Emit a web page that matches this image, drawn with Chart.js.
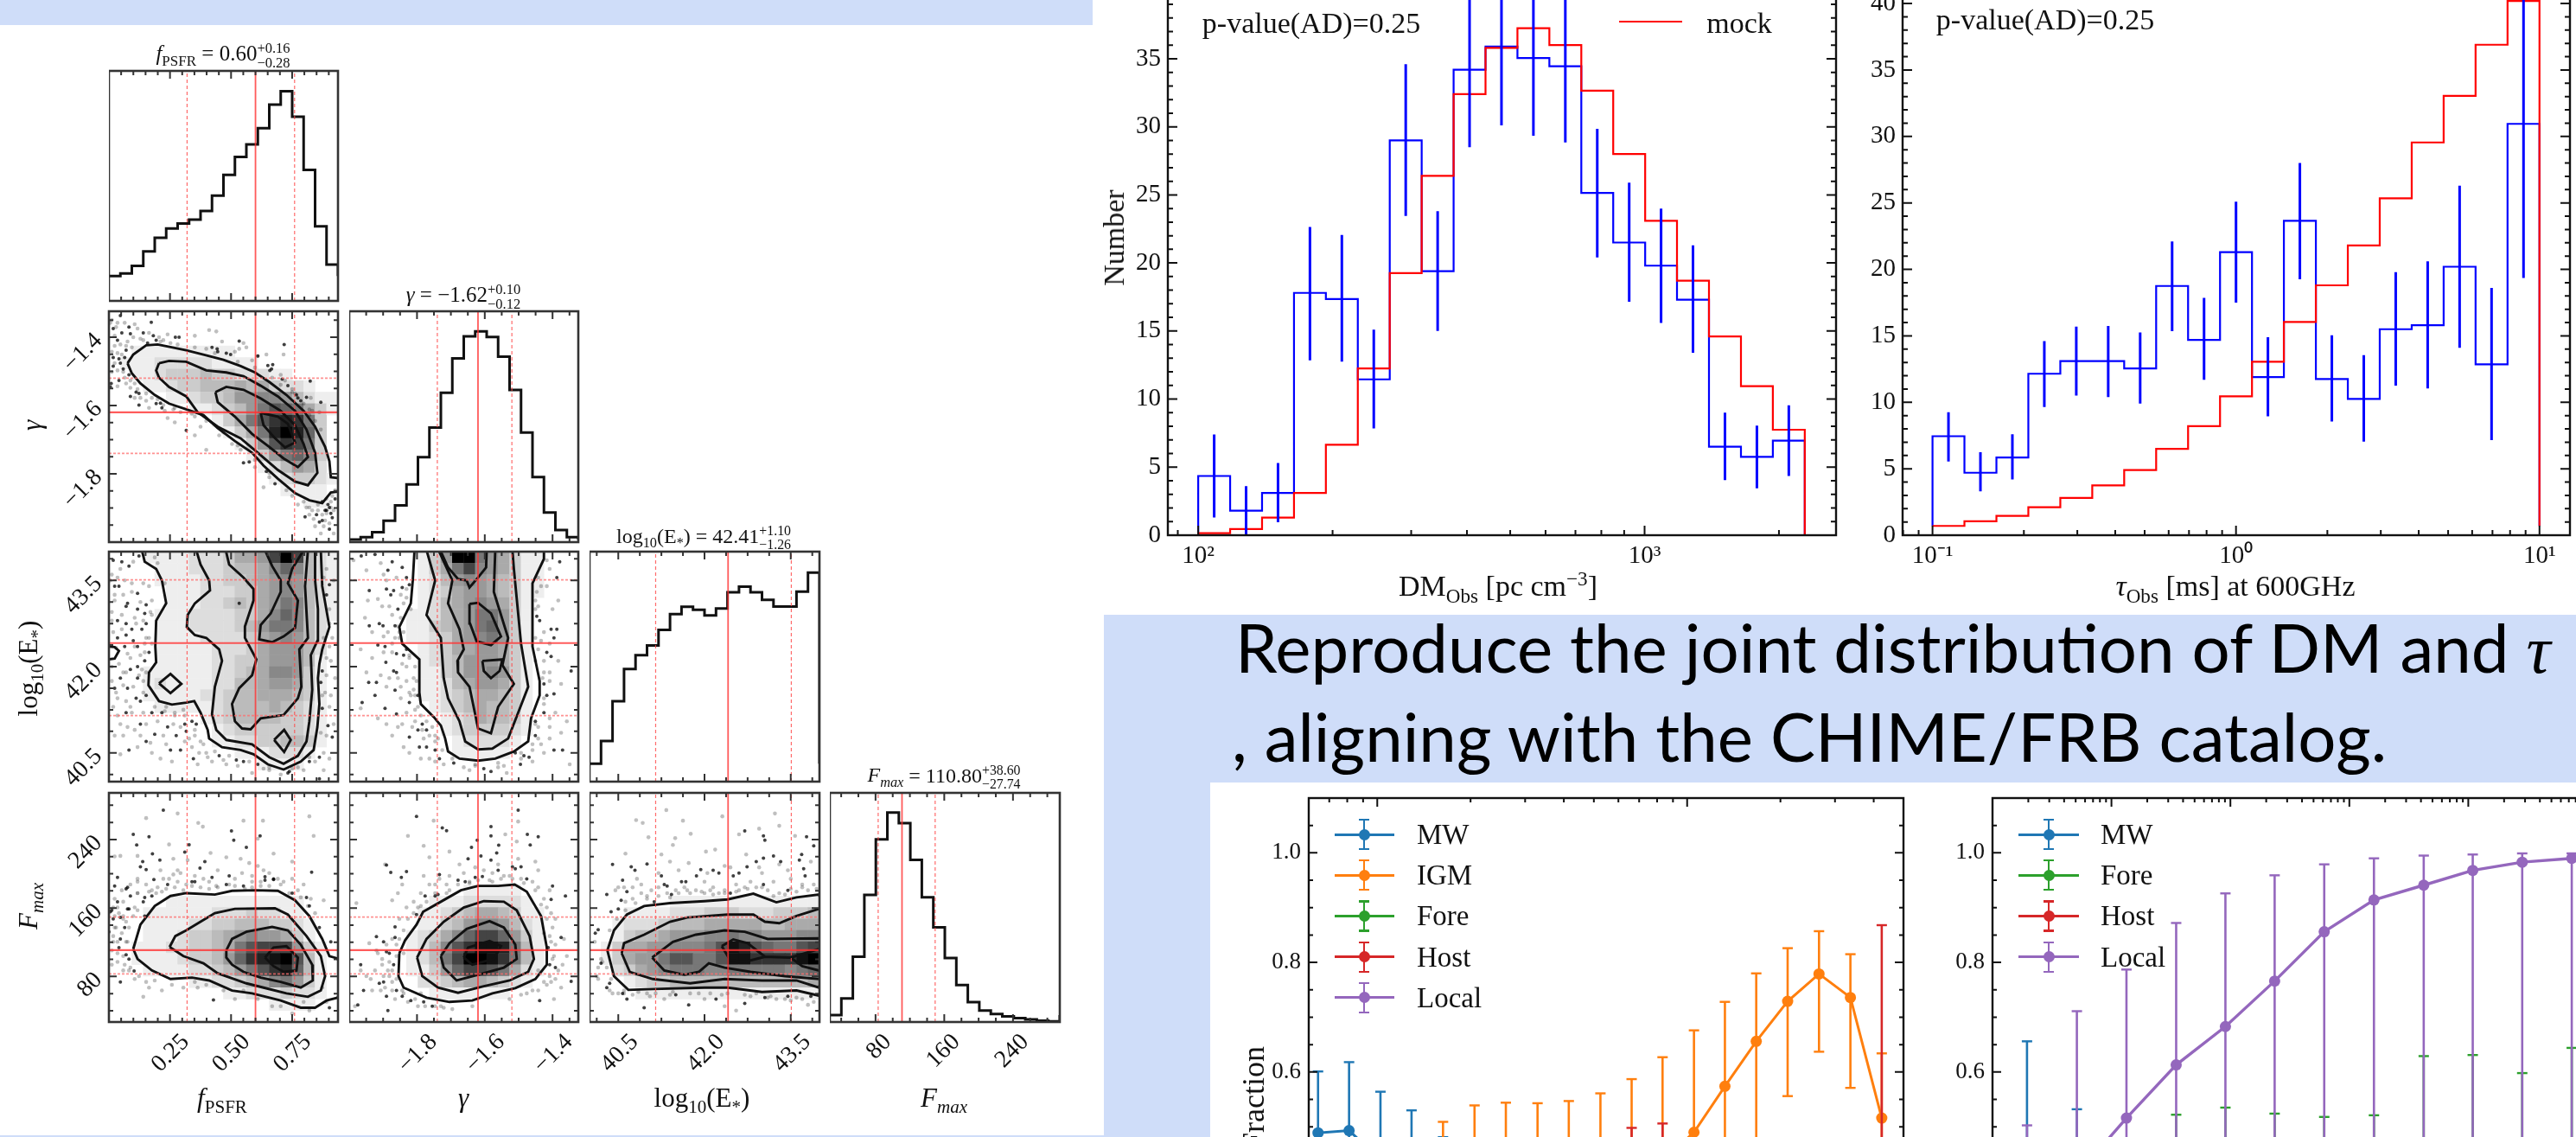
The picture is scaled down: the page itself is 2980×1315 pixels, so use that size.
<!DOCTYPE html>
<html><head><meta charset="utf-8">
<script src="https://cdn.jsdelivr.net/npm/chart.js@4"></script>
<style>
html,body{margin:0;padding:0;width:2980px;height:1315px;overflow:hidden;background:#fff}
#stage{position:absolute;left:0;top:0;width:2980px;height:1315px;overflow:hidden}
.band{position:absolute;background:#cfddf9}
.layer{position:absolute;left:0;top:0;width:2980px;height:1315px}
canvas{position:absolute}
.t{position:absolute;font-family:"Liberation Serif",serif;color:#111;white-space:nowrap;transform:translate(-50%,-50%)}
.t sub,.t sup{font-size:.68em;line-height:0}
.s{display:inline-block;vertical-align:middle;font-size:.66em;line-height:1;text-align:left}
.s span{display:block}
.h{position:absolute}
.slide{position:absolute;font-family:Lato,"Noto Sans",sans-serif;color:#000;white-space:nowrap;font-size:78px;line-height:1}
#corner{filter:blur(.7px)}
#dist,#frac{filter:blur(.4px)}
</style></head><body><div id="stage">
<div class="band" style="left:0;top:0;width:1264px;height:29px"></div>
<div class="band" style="left:1277px;top:711px;width:1703px;height:194px"></div>
<div class="band" style="left:1277px;top:905px;width:123px;height:410px"></div>
<div class="band" style="left:0;top:1313px;width:1280px;height:2px"></div>
<div class="slide" style="left:1429px;top:709px">Reproduce the joint distribution of DM and <span style="font-family:'Liberation Serif';font-style:italic">τ</span></div>
<div class="slide" style="left:1425px;top:812px">, aligning with the CHIME/FRB catalog.</div>
<div class="layer" id="corner"></div>
<div class="layer" id="dist"></div>
<div class="layer" id="frac"></div>
</div>
<script>
// ---------- DM / tau histograms ----------
const dmEdges=[100,117.9,139,163.9,193.2,227.8,268.6,316.7,373.4,440.2,519,611.9,721.5,850.6,1003,1182,1394,1644,1938,2285];
const dmObs=[4.35,1.8,3.1,17.8,17.35,11.45,29,19.4,34.2,35.9,35.05,34.45,25.15,21.5,19.8,17.3,6.5,5.75,6.95];
const dmMock=[0.15,0.45,1.3,3.1,6.65,12.25,19.25,26.4,32.4,35.8,37.25,36,32.65,28,23.1,18.7,14.6,10.95,7.75];
const dmHi=[7.4,3.6,5.3,22.65,22.05,15.1,34.6,23.8,39.9,41.5,40.8,40,29.85,25.9,24,21.3,9,8.05,9.55];
const dmLo=[1.3,0,0.95,12.85,12.75,7.85,23.45,15,28.5,30.1,29.35,28.85,20.4,17.15,15.6,13.4,4.05,3.45,4.35];
const tauEdges=[0.1,0.1274,0.1624,0.2069,0.2637,0.336,0.4281,0.5456,0.6952,0.8859,1.129,1.438,1.833,2.336,2.976,3.793,4.833,6.158,7.848,10];
const tauObs=[7.45,4.7,5.85,12.15,13.1,13.1,12.55,18.75,14.7,21.3,11.9,23.65,11.75,10.25,15.5,15.8,20.2,12.85,30.95];
const tauMock=[0.7,1.05,1.45,2.1,2.8,3.75,4.9,6.5,8.2,10.45,13.05,16.05,18.8,21.8,25.35,29.55,33.05,36.9,40.2];
const tauHi=[9.25,6.25,7.6,14.6,15.7,15.75,15.25,22.1,17.85,25.1,14.9,28,15.05,13.55,19.8,20.6,26.3,18.6,42.5];
const tauLo=[5.55,3.3,4.2,9.65,10.5,10.4,9.9,15.35,11.7,17.5,8.95,19.25,8.55,7.05,11.25,11.05,14.1,7.15,19.35];
const countTicks=[];for(let i=0;i<=43;i++)countTicks.push(i);
const countMajor=[0,5,10,15,20,25,30,35,40];
const dmTicks=[90,100,200,300,400,500,600,700,800,900,1000,2000];
const dmMajor=[100,1000];const dmLabels=['10²','10³'];
const tauTicks=[0.08,0.09,0.1,0.2,0.3,0.4,0.5,0.6,0.7,0.8,0.9,1,2,3,4,5,6,7,8,9,10];
const tauMajor=[0.1,1,10];const tauLabels=['10⁻¹','10⁰','10¹'];
// ---------- fraction panels ----------
const names5=['MW','IGM','Fore','Host','Local'];
const names4=['MW','Fore','Host','Local'];
const tab={MW:'#1f77b4',IGM:'#ff7f0e',Fore:'#2ca02c',Host:'#d62728',Local:'#9467bd'};
const dmBins=[64.4,81.1,102.4,129,163,206,260,329,415,525,662,833,1052,1324,1671,2110,2664,3364,4246];
const cMW=[.489,.493,.44,.40,.35,.30,.26,.22,.18,.15,.12,.10,.08,.06,.05,.04,.03,.02,.02];
const cMWhi=[.601,.618,.564,.53,.481,.44,.40,.35,.30,.26,.22,.19,.16,.13,.11,.09,.08,.07,.06];
const cMWlo=[.38,.37,.31,.27,.22,.18,.14,.11,.08,.06,.05,.03,.02,.02,.01,.01,.01,.01,.01];
const cIGM=[.20,.24,.27,.31,.35,.38,.40,.41,.42,.42,.43,.438,.49,.574,.656,.729,.779,.736,.516];
const cIGMhi=[.34,.38,.42,.46,.509,.539,.544,.543,.547,.561,.587,.627,.676,.728,.78,.826,.857,.815,.634];
const cIGMlo=[.08,.10,.13,.16,.19,.22,.25,.27,.28,.29,.29,.27,.31,.40,.47,.556,.637,.571,.38];
const cFore=[.09,.09,.09,.10,.11,.12,.12,.12,.12,.11,.10,.09,.08,.06,.05,.04,.03,.03,.02];
const cForeHi=[.22,.22,.22,.24,.25,.27,.27,.27,.26,.25,.24,.22,.2,.17,.14,.12,.1,.09,.08];
const cForeLo=[.01,.01,.01,.02,.02,.03,.03,.03,.03,.03,.02,.02,.01,.01,.01,.01,.01,.01,.01];
const cHost=[.06,.07,.08,.09,.10,.12,.14,.17,.20,.24,.28,.31,.27,.22,.18,.14,.11,.14,.36];
const cHostHi=[.18,.2,.22,.24,.26,.3,.34,.38,.42,.46,.498,.506,.46,.4,.33,.27,.23,.28,.868];
const cHostLo=[.01,.01,.01,.02,.02,.03,.04,.05,.06,.08,.11,.13,.11,.09,.07,.05,.04,.04,.07];
const cLocal=[.08,.08,.08,.08,.08,.07,.07,.07,.06,.06,.05,.05,.04,.04,.03,.03,.03,.03,.03];
const cLocalHi=[.22,.22,.21,.21,.2,.2,.19,.18,.17,.16,.15,.14,.12,.11,.1,.09,.08,.08,.08];
const cLocalLo=[.01,.01,.01,.01,.01,.01,.01,.01,.01,.01,.01,.01,.01,.01,.01,.01,.01,.01,.01];
const cXTicks=[60,70,80,90,100,200,300,400,500,600,700,800,900,1000,2000,3000,4000];
const cXMajor=[100,1000];
const tauBins=[0.00195,0.00512,0.01337,0.035,0.0908,0.2355,0.615,1.61,4.22,10.9,28.4,74.1];
const dMW=[.33,.24,.18,.12,.09,.07,.05,.04,.03,.02,.01,.01];
const dMWhi=[.656,.532,.42,.33,.26,.2,.15,.12,.1,.08,.05,.03];
const dMWlo=[.06,.04,.02,.01,.01,.01,.01,.01,.01,.01,.01,.01];
const dFore=[.12,.16,.18,.2,.2,.19,.17,.14,.14,.1,.09,.07];
const dForeHi=[.3,.38,.44,.522,.535,.524,.518,.521,.629,.631,.598,.644];
const dForeLo=[.01,.02,.02,.03,.03,.03,.02,.02,.01,.01,.01,.01];
const dHost=[.2,.18,.14,.1,.07,.05,.04,.03,.02,.01,.01,.01];
const dHostHi=[.46,.42,.36,.3,.24,.18,.14,.1,.07,.05,.03,.02];
const dHostLo=[.03,.03,.02,.01,.01,.01,.01,.01,.01,.01,.01,.01];
const dLocal=[.30,.412,.516,.613,.683,.766,.856,.914,.941,.968,.983,.990];
const dLocalHi=[.5026,.711,.787,.872,.926,.959,.979,.990,.995,.997,.999,.999];
const dLocalLo=[.10,.12,.24,.34,.42,.47,.47,.47,.46,.46,.45,.45];
const dXTicks=[.002,.003,.004,.005,.006,.007,.008,.009,.01,.02,.03,.04,.05,.06,.07,.08,.09,.1,.2,.3,.4,.5,.6,.7,.8,.9,1,2,3,4,5,6,7,8,9,10,20,30,40,50,60,70,80,90];
const dXMajor=[.01,.1,1,10];
const fracTicks=[0,.05,.1,.15,.2,.25,.3,.35,.4,.45,.5,.55,.6,.65,.7,.75,.8,.85,.9,.95,1,1.05];
const fracMajor=[.6,.8,1,.4,.2,0];const fracLabels=['0.6','0.8','1.0','0.4','0.2','0.0'];
// ---------- corner parameters ----------
const paramF={lo:0,hi:.9377,q:[.32,.60,.76]};
const paramG={lo:-2,hi:-1.324,q:[-1.74,-1.62,-1.52]};
const paramE={lo:40,hi:44,q:[41.15,42.41,43.51]};
const paramM={lo:26.8,hi:294.5,q:[83.06,110.8,149.4]};
const tF=[.05,.1,.15,.2,.25,.3,.35,.4,.45,.5,.55,.6,.65,.7,.75,.8,.85,.9];
const tG=[-1.95,-1.9,-1.85,-1.8,-1.75,-1.7,-1.65,-1.6,-1.55,-1.5,-1.45,-1.4,-1.35];
const tE=[40.125,40.5,40.875,41.25,41.625,42,42.375,42.75,43.125,43.5,43.875];
const tM=[40,60,80,100,120,140,160,180,200,220,240,260,280];
const mF=[.25,.5,.75],mG=[-1.8,-1.6,-1.4],mE=[40.5,42,43.5],mM=[80,160,240];
const lF=['0.25','0.50','0.75'],lG=['−1.8','−1.6','−1.4'],lE=['40.5','42.0','43.5'],lM=['80','160','240'];
// 1-D posterior histograms (percent of panel height), 20 bins
const histF=[10.8,11.9,15.2,21.5,27.4,31.5,33.6,35.3,39.1,45.8,54.8,62.6,68,75.1,85.3,91.2,80.1,57,32.4,15.8];
const histG=[1.1,2.2,4.3,9.3,15.9,25,36.8,49.6,64.7,79.6,89.1,91.3,88.9,80.3,65.9,47.5,28.2,12.8,5.2,2.2];
const histE=[7.8,17.7,35,49,55,59.2,66,72.8,76,74.7,72.3,75.3,82.3,84.8,82.3,79,76.1,76.1,82.6,90.9];
const histM=[3,10.3,28.5,55.5,79.7,91.4,86.8,70.8,54.4,41.3,27.9,16.1,8.7,5,3.5,2.5,1.7,1.1,.6,.3];
// 2-D histograms: rows top to bottom, hex digit = density level
const gridFG=["00000000000000000000","00000000000000000000","00000000000000000000","00111111111000000000","01112222211110000000","00112333433222110000","00011233444545322100","00000112334667764211","00000001123468a98531","0000000001358acdc830","00000000001358dfd930","00000000000136acb830","00000000000013689730","00000000000001246520","00000000000000123321","00000000000000011110","00000000000000000110","00000000000000000000","00000000000000000000","00000000000000000000"];
const gridFE=["00011112223556bfb421","00001112223445797421","00001111223345676421","00000111222335676421","00000111223435687421","00001112222335797421","00001112222346887420","00001111222235676420","00001111122235666420","00001111122335666410","00011111122345776310","00012111122445665310","00011111223445554310","00001111123444543210","00000000123444433210","00000000012333333210","00000000011223344310","00000000000111222100","00000000000001111000","00000000000000000000"];
const gridGE=["000000136ff865311000","0000001358b765311000","00000012467654311000","00000012356654311000","00000012456765310000","00000112456886310000","00000113456896310000","00000112356786310000","00000012355665310000","00000012346665310000","00000011346676310000","00000011245665310000","00000011234554310000","00000001234544310000","00000000123544310000","00000000123333210000","00000000012222100000","00000000011111000000","00000000000000000000","00000000000000000000"];
const gridFM=["00000000000000000000","00000000000000000000","00000000000000000000","00000000000000000000","00000000000000000000","00000000000000000000","00000000000000000000","00000000000000000000","00000000000000000000","00000111111111111000","00011111122232211000","00011112233444332100","00011123345676653100","001112233458abbb6310","001111233469cdefa410","0001111223468acd9410","00000001122345786310","00000000001122232210","00000000000000111100","00000000000000000000"];
const gridGM=["00000000000000000000","00000000000000000000","00000000000000000000","00000000000000000000","00000000000000000000","00000000000000000000","00000000000000000000","00000000000000000000","00000000001111100000","00000001112222210000","00000011234554311000","00000011346776421000","00000123579bb9631000","000001247aceed841000","000001248bffec841000","0000011369bba8521000","00000022345543210000","00000001111111000000","00000000000000000000","00000000000000000000"];
const gridEM=["00000000000000000000","00000000000000000000","00000000000000000000","00000000000000000000","00000000000000000000","00000000000000000000","00000000000000000000","00000000000000000000","00000000000000000000","00000001111111111111","00011112223332223334","00122234445555544555","00134456667787766677","01355667778aeda988ab","0135668aa88aeeccccef","00235678887788888789","00012334444444444445","00001111111111111111","00000000000000000000","00000000000000000000"];
// contour levels: unit-cube parameter coordinates in per-mille of each 800-wide axis range, x,y pairs, y from axis top
const cFG=[[65,180,85,150,130,118,170,115,215,124,270,135,330,150,400,168,460,190,510,212,560,245,620,290,680,345,720,400,755,470,770,520,775,575,798,578,840,600,798,625,775,628,745,665,700,655,650,630,590,580,540,535,500,490,440,450,380,405,330,360,270,340,210,320,160,290,110,250,80,215,65,180],
[175,180,210,172,270,175,340,205,410,212,470,225,530,258,590,295,650,345,690,410,720,490,728,560,695,603,650,590,590,550,520,490,460,440,380,400,310,350,270,295,210,262,175,230,165,205,175,180],
[372,280,410,262,470,272,530,302,600,345,650,395,680,460,695,505,660,540,610,510,560,470,500,425,440,365,380,315,372,280],
[530,352,590,365,625,390,650,455,615,472,580,440,540,395,530,352]];
const cFE=[[115,-5,125,35,165,60,185,100,200,180,165,240,162,330,165,385,140,420,138,465,175,520,220,532,270,525,298,520,320,560,345,620,350,650,395,680,460,690,505,705,555,740,610,758,670,730,715,690,728,610,735,530,730,440,735,390,745,340,770,262,745,120,740,-5],
[305,-5,320,45,350,100,353,135,300,180,275,220,272,262,300,290,340,300,385,340,395,380,370,470,360,565,375,620,410,655,500,670,560,715,610,738,660,710,690,660,700,590,710,480,705,360,728,310,730,200,720,100,720,-5],
[408,-5,420,45,470,90,505,130,505,170,475,260,475,300,515,375,500,430,455,475,430,530,440,590,465,615,495,618,530,580,610,568,660,510,672,470,665,340,695,300,685,120,695,-5],
[545,-5,570,50,600,100,600,140,565,215,530,255,525,305,570,315,610,295,650,265,660,170,625,110,640,60,680,-5],
[175,458,215,425,253,460,215,492,175,458],[577,655,612,620,635,655,612,697,577,655],[-5,330,20,332,35,345,20,372,-5,375]];
const cGE=[[228,-5,222,100,215,180,175,262,185,320,245,375,245,490,250,530,295,575,320,605,335,650,345,695,385,720,450,727,510,720,575,695,625,660,635,580,665,500,665,450,640,330,640,110,680,25,680,-5],
[270,-5,300,100,270,220,320,300,330,440,345,510,385,590,405,660,450,688,500,685,555,650,590,560,625,470,600,320,575,60,570,-5],
[312,-5,360,100,345,180,385,270,400,340,378,380,380,420,420,470,450,615,495,632,520,540,575,460,535,395,555,300,505,140,510,-5],
[318,-5,345,55,380,95,410,100,420,125,450,90,478,55,480,-5],
[420,182,450,178,495,215,530,295,495,325,445,312,422,250,420,182],[465,380,535,375,525,415,495,440,470,415,465,380]];
const cFM=[[85,545,110,460,160,395,215,360,270,350,370,355,430,342,510,340,590,342,650,375,700,430,745,510,770,570,798,578,830,650,798,715,760,725,720,750,670,750,600,725,500,700,430,690,350,655,290,645,215,650,150,620,100,580,85,545],
[212,538,232,500,270,480,320,450,370,420,440,405,580,403,625,425,690,500,740,570,755,640,740,690,695,712,620,700,540,680,480,665,380,630,330,595,260,570,212,538],
[410,550,430,510,480,485,570,468,625,480,670,530,710,600,712,655,670,680,600,660,530,645,470,625,430,600,410,575,410,550],
[545,575,575,540,620,535,660,575,655,620,610,625,575,605,545,575]];
const cGM=[[175,560,195,515,235,460,258,415,320,380,390,340,450,325,520,325,578,320,620,345,670,430,690,540,690,600,650,650,580,682,500,700,430,725,350,730,270,715,190,680,172,640,175,560],
[237,575,270,510,330,450,400,400,470,378,540,380,585,410,630,500,645,580,625,625,560,655,470,675,380,698,310,680,255,640,237,575],
[320,570,350,525,410,475,490,448,540,470,580,530,585,580,540,610,450,635,375,655,330,610,320,570],
[400,575,415,540,490,517,530,535,505,580,430,600,400,575]];
const cEM=[[62,550,85,480,130,425,190,395,280,385,400,378,480,372,570,352,650,382,720,365,798,355,860,500,798,708,720,690,600,695,480,680,400,680,220,685,135,688,85,640,62,550],
[112,560,120,525,190,495,280,450,340,435,480,425,570,425,610,450,660,455,720,430,798,405,860,500,798,680,720,655,600,655,470,650,350,665,220,650,140,625,112,560],
[218,575,290,520,370,495,470,480,540,485,620,510,798,508,860,570,798,650,680,640,560,625,470,610,415,595,380,625,330,635,260,620,218,575],
[460,535,500,512,550,525,610,572,700,575,798,545,860,590,798,620,740,605,700,575,610,572,540,590,490,585,460,535]];
// posterior samples outside the contours (same per-mille coordinates), dark and faint
const darkFG=[40,15,148,38,70,55,15,60,45,75,75,78,120,75,155,85,30,100,135,110,165,100,245,90,232,90,455,103,612,115,360,125,378,130,15,160,35,165,60,135,55,160,40,180,15,190,8,250,5,262,50,200,70,220,35,240,95,280,105,285,75,295,105,325,165,320,180,318,185,335,270,413,490,522,470,525,580,598,703,242,660,300,690,298,740,315,520,155,572,185,562,205,568,200,555,188,605,235,625,258,655,290,670,310,550,555,380,140,410,145,425,150,755,690,770,680,745,660,765,670,735,730,770,755,760,690,685,712,725,705,780,715,790,650,775,700,745,725];
const liteFG=[10,30,30,40,90,45,100,60,190,100,215,110,205,80,300,85,350,65,375,70,395,105,480,125,455,130,440,140,520,155,550,150,610,150,470,110,340,130,500,170,600,220,640,270,700,360,735,350,705,300,20,120,10,210,30,260,60,250,90,300,130,310,140,335,205,370,230,385,250,350,300,365,320,400,300,430,385,430,430,460,460,480,340,480,540,610,640,640,680,660,690,680,660,670,710,690,790,620,770,735,740,770,720,745,90,250,195,345,5,40,25,55,55,40,85,90,110,95,20,85,40,115,65,105,10,140,30,145,45,150,20,180,30,205,55,230,75,265,110,300,150,300,190,325,225,340,175,90,140,75,120,100,600,255,615,240,650,285,680,320,710,345,720,380,745,705,755,725,775,680,785,690,730,690,700,705,760,650,750,745,785,770,715,720,560,575,510,540,60,120,80,125,50,210,75,240,100,270,130,285,170,305,230,335,290,355,340,380,400,420,450,465,510,515,560,560,620,620,180,105,240,115,300,125,370,145,450,175,510,195,570,230,640,280,700,340,740,410,775,660,760,700,730,670,700,680,780,640];
const darkFE=[15,30,45,35,105,15,70,50,20,120,35,120,100,145,130,185,60,190,65,180,125,215,130,250,100,200,30,240,60,250,80,270,115,270,30,300,60,290,85,310,100,330,55,330,140,350,125,380,75,410,100,400,40,440,100,440,65,475,95,510,130,500,110,520,20,475,150,560,185,560,235,640,270,625,265,600,290,590,160,635,205,610,130,660,70,690,250,690,215,690,295,720,385,710,445,725,625,770,630,765,770,115,760,150,745,415,740,455,745,545,765,605,780,645,735,715,700,730,735,790,470,730,520,740,110,600,60,560,305,600,455,180];
const liteFE=[10,80,30,90,55,100,80,110,120,110,140,120,150,170,20,170,10,210,45,220,90,230,150,220,15,280,125,320,10,400,35,390,50,420,75,370,115,410,30,510,60,520,80,560,15,540,40,600,90,620,130,600,170,590,200,540,230,570,260,550,300,640,320,660,340,700,150,700,180,720,220,730,290,680,360,730,410,740,500,770,560,760,680,760,750,760,770,720,785,600,770,540,755,490,790,440,775,380,770,330,760,60,785,100,770,250,20,640,50,640,100,680,40,705,310,740,5,100,40,60,85,35,20,150,50,150,80,140,110,175,10,240,45,270,95,250,140,300,25,335,65,355,110,360,10,450,50,465,85,470,120,450,25,490,75,540,120,560,30,570,65,610,110,640,145,665,190,640,225,600,250,610,280,650,315,700,345,715,265,660,200,670,400,725,450,745,540,755,600,775,660,750,720,730,750,700,760,640,775,500,760,430,780,300,750,90,120,240,145,210,130,300,150,320,125,350,105,430,130,420,120,490,160,540,195,555,230,560,265,570,300,620,330,670,370,695,420,710,490,730,560,750,640,755,700,715,740,630,745,500,760,370,750,300,770,200,160,20,170,40,195,110,90,330,60,420];
const darkGE=[42,15,90,10,150,35,185,55,135,65,200,90,210,115,70,135,130,130,155,135,185,125,145,150,170,200,105,250,118,258,160,258,70,258,100,325,125,330,200,340,165,355,190,360,128,385,155,415,165,420,68,455,95,455,160,482,240,500,90,500,125,545,165,565,210,525,45,525,255,600,210,645,245,680,270,680,300,690,315,720,365,735,495,765,470,755,598,740,580,700,628,715,690,500,715,495,680,460,705,365,715,300,735,35,725,90,655,225,665,240,705,270,725,270,690,350,775,415,745,690,715,690,650,640,680,560,650,590,610,710,240,620,270,620];
const liteGE=[15,30,60,65,110,40,120,80,65,170,100,165,140,190,190,180,55,230,80,280,120,295,175,300,40,340,80,370,150,320,60,420,110,430,200,400,130,470,180,470,210,490,225,440,40,545,100,580,130,600,185,600,150,640,190,680,230,590,300,640,250,720,300,730,400,750,440,745,520,750,550,770,640,730,680,700,700,650,740,630,660,650,700,580,760,590,700,450,740,460,680,380,730,380,670,310,655,140,690,120,660,190,710,200,730,170,770,740,130,100,165,90,180,150,200,160,115,190,150,220,135,280,175,280,120,350,150,350,185,390,210,370,170,440,140,440,200,450,225,480,180,510,200,560,230,550,250,570,170,610,220,610,260,650,280,640,300,660,210,700,280,720,330,740,420,760,540,745,600,720,640,690,670,670,700,610,660,610,720,560,680,530,700,420,680,420,660,340,700,320,680,280,670,120,700,60,650,170,200,130,215,200,170,260,160,300,210,360,230,400,235,450,215,500,240,540,270,590,290,610,310,650,325,690,360,720,440,740,520,735,600,700,640,670,650,600,680,510,675,440,650,380,650,300,650,200,660,90,690,30,180,230,190,280,230,500,255,620];
const darkFM=[140,153,97,182,85,145,190,60,280,181,265,207,436,165,428,133,480,190,528,150,130,268,118,240,110,258,178,235,152,213,157,303,205,320,65,330,60,335,30,295,20,325,125,365,75,360,30,380,10,410,5,415,70,405,40,435,125,430,0,485,40,510,35,540,60,565,70,580,88,622,40,660,365,723,770,750,708,277,735,470,775,520,470,325,420,290,545,293,575,303,545,305,360,295,290,310,318,263,335,240,410,320,575,300,300,310,690,365,640,350,700,395,15,440,55,470,65,405,120,380,150,360];
const liteFM=[130,88,240,72,312,105,328,118,470,97,538,97,700,82,715,150,520,160,40,220,20,222,100,220,210,180,225,230,240,270,275,235,355,210,410,225,460,230,490,245,575,212,520,255,640,240,590,300,640,300,100,310,180,270,170,330,240,310,330,300,380,270,440,300,500,310,20,370,50,380,100,350,660,340,750,375,720,420,20,470,10,550,30,590,50,620,105,640,130,660,160,655,120,712,185,690,300,660,310,680,470,690,520,720,640,770,570,745,680,730,745,680,45,340,75,320,100,300,130,320,150,340,185,345,210,300,250,280,270,320,300,290,350,310,380,330,420,320,500,290,530,310,560,280,610,310,680,320,705,370,15,400,35,420,60,450,85,430,100,410,15,500,30,520,60,520,10,600,70,620,90,650,50,570,140,680,220,670,260,680,340,670,400,690,440,720,600,745,700,760,760,730,50,440,20,430,190,300,225,285,465,280,540,270,100,350,140,345,165,350,200,335,230,330,260,340,290,325,320,330,350,335,375,325,440,325,475,335,500,330,530,325,560,325,600,320,630,350,670,365,695,395,30,400,50,430,70,470,15,520,45,490,65,520,30,560,55,600,75,610,25,470,90,400];
const darkGM=[235,82,447,165,495,150,660,153,632,182,622,145,427,190,522,183,590,60,495,118,340,132,325,122,460,220,495,235,515,210,415,230,600,258,570,258,520,270,130,252,145,278,200,275,182,295,315,285,380,305,405,310,440,295,465,292,300,360,265,360,310,355,160,468,235,425,95,502,160,505,120,520,140,560,130,555,40,600,155,600,105,665,120,660,50,690,165,690,130,710,185,710,215,725,260,730,290,745,665,725,755,360,705,372,710,325,580,265,620,300,695,540,700,600,720,610,740,505,775,658,30,740,135,760];
const liteGM=[205,150,295,97,260,185,280,225,350,205,385,250,440,260,500,280,540,290,590,230,650,240,660,270,590,100,545,145,585,170,125,250,185,320,170,350,150,375,260,290,340,350,200,400,175,440,25,385,70,525,100,560,115,600,40,620,75,650,80,690,140,640,150,690,190,700,240,745,20,745,250,700,330,750,660,330,700,340,705,420,720,440,710,470,720,530,750,510,745,600,680,660,705,660,740,680,640,690,715,720,660,620,760,570,225,380,250,350,280,320,315,300,350,290,400,280,470,270,520,250,560,290,600,300,640,310,680,370,690,400,680,490,705,520,710,580,730,620,720,650,690,670,620,700,560,720,240,400,205,440,190,480,150,510,130,530,95,550,115,580,135,620,90,620,60,640,110,690,160,720,205,730,300,745,360,755,430,745,165,530,190,560,125,680,150,660,300,320,340,320,420,310,500,310,250,395,225,420,270,380,300,350,350,340,380,320,420,315,450,305,490,305,530,300,570,300,610,315,650,340,670,390,690,440,700,500,715,570,700,640,660,690,600,705,165,570,150,620,165,650,140,590,120,640,185,690,230,720,265,745,320,745,175,510];
const darkEM=[60,355,30,478,80,250,387,268,372,290,260,320,270,325,250,290,320,310,200,248,145,258,158,270,115,305,130,345,225,380,285,355,335,310,605,150,610,165,755,153,738,215,730,235,605,228,580,240,548,258,520,280,430,270,450,280,500,290,780,185,40,595,115,700,130,720,190,750,345,740,610,715,540,735,440,720,300,705,770,710,690,710,20,490,75,415,100,405,110,375,60,680,70,665,490,350,605,320,690,340,750,290,665,240,640,220,745,265,540,133];
const liteEM=[162,95,185,105,267,60,462,82,325,97,352,143,290,182,298,158,205,155,125,212,250,215,280,240,345,245,405,205,437,198,470,255,545,215,520,145,590,125,660,115,645,72,715,150,660,250,600,280,560,310,400,310,340,340,100,330,180,320,200,360,150,370,420,340,450,350,520,340,640,310,700,300,740,320,30,610,45,590,25,640,70,690,100,700,150,705,210,710,260,720,400,720,470,745,510,760,580,700,650,720,720,715,760,740,18,520,90,340,120,330,150,330,180,350,215,340,240,330,270,350,300,340,330,330,370,340,400,350,430,330,470,340,510,320,540,330,580,330,620,340,660,350,700,335,740,330,780,320,125,380,165,300,240,280,310,270,410,280,490,260,590,260,690,270,770,240,40,580,30,650,80,700,120,690,170,695,230,700,290,695,350,700,420,700,480,700,560,710,630,710,680,720,740,720,780,730,70,480,95,440,125,410,160,385,200,370,240,360,280,365,310,350,350,350,390,345,430,355,470,350,510,345,550,335,600,330,640,360,680,355,720,345,760,340,790,335,60,610,75,650,120,700,200,700,280,705,380,700,460,705,540,705,620,715,700,725];

// ---------- helpers ----------
const SERIF='"Liberation Serif", serif';
Chart.defaults.animation=false;
function frame(o){return{id:'frame',afterDatasetsDraw(ch){
  const {ctx,chartArea:a,scales:{x,y}}=ch;ctx.save();
  ctx.strokeStyle=o.color;ctx.lineWidth=o.tw;
  const mk=(px,l,vert)=>{ctx.beginPath();
    if(vert){ctx.moveTo(px,a.bottom);ctx.lineTo(px,a.bottom-l);ctx.moveTo(px,a.top);ctx.lineTo(px,a.top+l);}
    else{ctx.moveTo(a.left,px);ctx.lineTo(a.left+l,px);ctx.moveTo(a.right,px);ctx.lineTo(a.right-l,px);}
    ctx.stroke();};
  if(o.xt)for(const v of o.xt){const p=x.getPixelForValue(v);if(p>=a.left&&p<=a.right)mk(p,o.xm.includes(v)?o.maj:o.min,true);}
  if(o.yt)for(const v of o.yt){const p=y.getPixelForValue(v);if(p>=a.top&&p<=a.bottom)mk(p,o.ym.includes(v)?o.maj:o.min,false);}
  ctx.lineWidth=o.bw;ctx.strokeRect(a.left,a.top,a.right-a.left,a.bottom-a.top);ctx.restore();}};}
function axis(kind,type,min,max,vals,majors,labels,mg,opt){
  const map=new Map();if(labels)majors.forEach((m,i)=>map.set(m,labels[i]));
  return{type,min,max,bounds:'data',position:kind==='x'?'bottom':'left',offset:false,
   grid:{display:false,drawTicks:false},border:{display:false},
   afterBuildTicks(s){s.ticks=(vals||[]).map(v=>({value:v}));},
   afterFit(s){if(kind==='x')s.height=mg;else s.width=mg;s.paddingLeft=s.paddingRight=s.paddingTop=s.paddingBottom=0;},
   ticks:{display:!!labels,autoSkip:false,color:'#111',padding:opt.pad,font:{family:SERIF,size:opt.size},
     minRotation:opt.rot||0,maxRotation:opt.rot||0,labelOffset:opt.off||0,
     callback:v=>map.has(v)?map.get(v):''}};}
function plot(parent,r,m,scales,datasets,fr){
  const c=document.createElement('canvas');
  const W=r.r-r.l+m.ml+m.mr,H=r.b-r.t+m.mt+m.mb;
  c.width=W;c.height=H;c.style.left=(r.l-m.ml)+'px';c.style.top=(r.t-m.mt)+'px';c.style.width=W+'px';c.style.height=H+'px';
  document.getElementById(parent).appendChild(c);
  new Chart(c,{type:'scatter',data:{datasets:datasets.slice().reverse()},plugins:[frame(fr)],
   options:{responsive:false,devicePixelRatio:1,animation:false,events:[],
    layout:{autoPadding:false,padding:{left:0,top:m.mt,right:m.mr,bottom:0}},
    elements:{line:{tension:0}},
    plugins:{legend:{display:false},tooltip:{enabled:false},title:{display:false}},scales}});
}
function line(pts,color,w,extra){return Object.assign({data:pts,showLine:true,fill:false,pointRadius:0,borderColor:color,borderWidth:w,spanGaps:false},extra||{});}
function steps(edges,vals,base,color,w){
  const pts=[{x:edges[0],y:base}];
  vals.forEach((v,i)=>pts.push({x:edges[i],y:v}));
  pts.push({x:edges[vals.length],y:vals[vals.length-1]});
  pts.push({x:edges[vals.length],y:base});
  return line(pts,color,w,{stepped:'before'});}
function bars(xs,lo,hi,color,w){const pts=[];xs.forEach((x,i)=>{pts.push({x,y:lo[i]},{x,y:hi[i]},{x,y:NaN});});return line(pts,color,w);}
function caps(xs,lo,hi,color,w,r){const pts=[];xs.forEach((x,i)=>{pts.push({x,y:lo[i]},{x,y:hi[i]});});
  return{data:pts,showLine:false,pointStyle:'line',pointRadius:r,pointBorderColor:color,pointBorderWidth:w,pointBackgroundColor:color};}
function label(parent,html,x,y,size,rot){const d=document.createElement('div');d.className='t';d.innerHTML=html;d.style.left=x+'px';d.style.top=y+'px';d.style.fontSize=size+'px';
  if(rot)d.style.transform='translate(-50%,-50%) rotate('+rot+'deg)';document.getElementById(parent).appendChild(d);return d;}
function hdiv(parent,x,y,w,h,col,rad){const d=document.createElement('div');d.className='h';d.style.cssText+=`left:${x}px;top:${y}px;width:${w}px;height:${h}px;background:${col};`+(rad?'border-radius:50%;':'');document.getElementById(parent).appendChild(d);}

// ---------- top-right histograms ----------
const distFrame=(xt,xm)=>({color:'#111',bw:2.4,tw:2,maj:11,min:6,xt,xm,yt:countTicks,ym:countMajor});
function binCentres(e,n){const a=[];for(let i=0;i<n;i++)a.push(Math.sqrt(e[i]*e[i+1]));return a;}
const dmC=binCentres(dmEdges,dmObs.length),tauC=binCentres(tauEdges,tauObs.length);
plot('dist',{l:1351,r:2124,t:-58,b:619},{ml:70,mr:3,mt:0,mb:42},{
  x:axis('x','logarithmic',85.5,2685,dmTicks,dmMajor,dmLabels,42,{size:29,pad:7}),
  y:axis('y','linear',0,43,countTicks,countMajor,countMajor.map(String),70,{size:29,pad:8})},
  [steps(dmEdges,dmObs,0,'#0000ff',2.2),steps(dmEdges,dmMock,0,'#ff0000',2.2),bars(dmC,dmLo,dmHi,'#0000ff',3)],distFrame(dmTicks,dmMajor));
plot('dist',{l:2201,r:2973,t:-42,b:619},{ml:70,mr:3,mt:0,mb:42},{
  x:axis('x','logarithmic',0.0797,12.6,tauTicks,tauMajor,tauLabels,42,{size:29,pad:7}),
  y:axis('y','linear',0,43,countTicks,countMajor,countMajor.map(String),70,{size:29,pad:8})},
  [steps(tauEdges,tauObs,0.7,'#0000ff',2.2),steps(tauEdges,tauMock,0.7,'#ff0000',2.2),bars(tauC,tauLo,tauHi,'#0000ff',3)],distFrame(tauTicks,tauMajor));
label('dist','p-value(AD)=0.25',1517,27,34);
label('dist','p-value(AD)=0.25',2366,23,34);
hdiv('dist',1873,24,73,2.4,'#ff0000');
label('dist','mock',2012,27,34);
label('dist','Number',1289,275,34,-90);
label('dist','DM<sub>Obs</sub> [pc cm<sup>−3</sup>]',1733,678,34);
label('dist','<i>τ</i><sub>Obs</sub> [ms] at 600GHz',2586,678,34);

// ---------- bottom fraction panels ----------
function series(xs,m,lo,hi,col,lw){return[line(xs.map((x,i)=>({x,y:m[i]})),col,lw,{pointRadius:6.5,pointBackgroundColor:col,pointBorderColor:col,pointBorderWidth:0}),bars(xs,lo,hi,col,2.6),caps(xs,lo,hi,col,2.4,6)];}
const fracFrame=(xt,xm)=>({color:'#111',bw:2.4,tw:2,maj:10,min:5,xt,xm,yt:fracTicks,ym:fracMajor});
const fracY=()=>axis('y','linear',0,1.1,fracTicks,fracMajor,fracLabels,60,{size:27,pad:9});
plot('frac',{l:1514,r:2202,t:923,b:1620},{ml:60,mr:3,mt:3,mb:10},{
  x:axis('x','logarithmic',60.1,4990,cXTicks,cXMajor,null,10,{size:27,pad:6}),y:fracY()},
  [...series(dmBins,cMW,cMWlo,cMWhi,tab.MW,3),...series(dmBins,cIGM,cIGMlo,cIGMhi,tab.IGM,3),...series(dmBins,cFore,cForeLo,cForeHi,tab.Fore,3),...series(dmBins,cHost,cHostLo,cHostHi,tab.Host,3),...series(dmBins,cLocal,cLocalLo,cLocalHi,tab.Local,3)],fracFrame(cXTicks,cXMajor));
plot('frac',{l:2305,r:2993,t:923,b:1620},{ml:60,mr:3,mt:3,mb:10},{
  x:axis('x','logarithmic',0.001,100,dXTicks,dXMajor,null,10,{size:27,pad:6}),y:fracY()},
  [...series(tauBins,dMW,dMWlo,dMWhi,tab.MW,3),...series(tauBins,dFore,dForeLo,dForeHi,tab.Fore,3),...series(tauBins,dHost,dHostLo,dHostHi,tab.Host,3),...series(tauBins,dLocal,dLocalLo,dLocalHi,tab.Local,3.4)],fracFrame(dXTicks,dXMajor));
const legY=[965,1012,1059.3,1106.7,1153.7];
function legend(names,x0,x1,xm,tx){names.forEach((n,i)=>{const y=legY[i],c=tab[n];
  hdiv('frac',x0,y-1.5,x1-x0,3,c);hdiv('frac',xm-1.3,y-17,2.6,34,c);hdiv('frac',xm-6,y-18,12,2.4,c);hdiv('frac',xm-6,y+16,12,2.4,c);hdiv('frac',xm-6.5,y-6.5,13,13,c,true);
  const d=label('frac',n,tx,y,33);d.style.transform='translate(0,-50%)';});}
legend(names5,1544,1613,1578,1639);
legend(names4,2335,2405,2370,2430);
label('frac','Fraction',1450,1270,36,-90);

// ---------- corner plot ----------
const colX=[[126,391],[404,669],[682,948],[960,1226]];
const rowY=[[82,348],[360,627],[638,904],[917,1182]];
const pars=[{p:paramF,t:tF,m:mF,l:lF,off:18},{p:paramG,t:tG,m:mG,l:lG,off:19},{p:paramE,t:tE,m:mE,l:lE,off:19},{p:paramM,t:tM,m:mM,l:lM,off:14}];
const cornerFrame=(xt,xm,yt,ym)=>({color:'#333',bw:2.6,tw:2,maj:9,min:5,xt,xm,yt,ym});
const redSolid='rgba(255,50,50,.8)',redDash='rgba(255,70,70,.8)';
function vlines(p,yl,yh){return p.q.map((v,i)=>line([{x:v,y:yl},{x:v,y:yh}],i===1?redSolid:redDash,i===1?1.8:1.2,i===1?{}:{borderDash:[4,3]}));}
function hlines(p,xl,xh){return p.q.map((v,i)=>line([{x:xl,y:v},{x:xh,y:v}],i===1?redSolid:'rgba(255,110,110,.75)',i===1?2.2:1.8,i===1?{}:{borderDash:[3,2]}));}
function hist(i,vals){
  const P=pars[i],p=P.p,last=i===3;
  const e=[];for(let k=0;k<=20;k++)e.push(p.lo+(p.hi-p.lo)*k/20);
  plot('corner',{l:colX[i][0],r:colX[i][1],t:rowY[i][0],b:rowY[i][1]},{ml:0,mr:3,mt:3,mb:last?70:3},{
    x:axis('x','linear',p.lo,p.hi,P.t,P.m,last?P.l:null,last?70:3,{size:28,pad:7,rot:45,off:P.off}),
    y:{type:'linear',min:0,max:100,display:false,afterFit(s){s.width=0;}}},
    [steps(e,vals,vals[0],'#111',3),...vlines(p,0,100)],cornerFrame(P.t,P.m,null,null));
}
function toX(p,u){return p.lo+(p.hi-p.lo)*u/800;}
function toY(p,v){return p.hi-(p.hi-p.lo)*v/800;}
function pairs(flat,px,py){const a=[];for(let i=0;i<flat.length;i+=2)a.push({x:toX(px,flat[i]),y:toY(py,flat[i+1])});return a;}
function panel(ci,ri,grid,contours,dark,lite){
  const X=pars[ci],Y=pars[ri],px=X.p,py=Y.p,bottom=ri===3,left=ci===0;
  const cells=[],cols=[];
  grid.forEach((row,r)=>{for(let c=0;c<20;c++){const lv=parseInt(row[c]||'0',16);if(!lv)continue;
    cells.push({x:px.lo+(px.hi-px.lo)*(c+.5)/20,y:py.hi-(py.hi-py.lo)*(r+.5)/20});
    const g=Math.round(255-lv*17);cols.push(`rgb(${g},${g},${g})`);}});
  const cellDS={data:cells,pointStyle:'rect',pointRadius:9.75,pointBorderWidth:0,pointBackgroundColor:cols};
  const dots=(f,c,r)=>({data:pairs(f,px,py),pointRadius:r,pointBorderWidth:0,pointBackgroundColor:c});
  plot('corner',{l:colX[ci][0],r:colX[ci][1],t:rowY[ri][0],b:rowY[ri][1]},{ml:left?80:0,mr:3,mt:3,mb:bottom?70:3},{
    x:axis('x','linear',px.lo,px.hi,X.t,X.m,bottom?X.l:null,bottom?70:3,{size:28,pad:7,rot:45,off:X.off}),
    y:axis('y','linear',py.lo,py.hi,Y.t,Y.m,left?Y.l:null,left?80:0,{size:28,pad:12,rot:45})},
    [cellDS,dots(lite,'rgba(0,0,0,.25)',2.3),dots(dark,'rgba(0,0,0,.75)',2),
     ...contours.map(c=>line(pairs(c,px,py),'#111',2.9)),...vlines(px,py.lo,py.hi),...hlines(py,px.lo,px.hi)],
    cornerFrame(X.t,X.m,Y.t,Y.m));
}
hist(0,histF);hist(1,histG);hist(2,histE);hist(3,histM);
panel(0,1,gridFG,cFG,darkFG,liteFG);
panel(0,2,gridFE,cFE,darkFE,liteFE);
panel(1,2,gridGE,cGE,darkGE,liteGE);
panel(0,3,gridFM,cFM,darkFM,liteFM);
panel(1,3,gridGM,cGM,darkGM,liteGM);
panel(2,3,gridEM,cEM,darkEM,liteEM);
const stack=(a,b)=>`<span class="s"><span>${a}</span><span>${b}</span></span>`;
label('corner','<i>f</i><sub>PSFR</sub> = 0.60'+stack('+0.16','−0.28'),258,64,25);
label('corner','<i>γ</i> = −1.62'+stack('+0.10','−0.12'),536,343,25);
label('corner','log<sub>10</sub>(E<sub>*</sub>) = 42.41'+stack('+1.10','−1.26'),814,622,24);
label('corner','<i>F<sub>max</sub></i> = 110.80'+stack('+38.60','−27.74'),1092,899,24);
label('corner','<i>f</i><sub>PSFR</sub>',257,1270,31);
label('corner','<i>γ</i>',536,1270,31);
label('corner','log<sub>10</sub>(E<sub>*</sub>)',812,1270,31);
label('corner','<i>F<sub>max</sub></i>',1092,1270,31);
label('corner','<i>γ</i>',37,492,31,-90);
label('corner','log<sub>10</sub>(E<sub>*</sub>)',33,773,31,-90);
label('corner','<i>F<sub>max</sub></i>',33,1048,31,-90);
</script></body></html>
